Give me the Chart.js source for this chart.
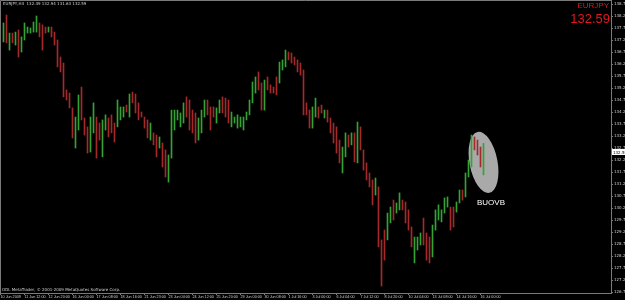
<!DOCTYPE html>
<html>
<head>
<meta charset="utf-8">
<script src="https://cdn.jsdelivr.net/npm/chart.js@4.4.1/dist/chart.umd.min.js"></script>
<style>
  html, body { margin: 0; padding: 0; background: #000; }
  #chart { display: block; }
</style>
</head>
<body>
<canvas id="chart" width="625" height="300"></canvas>
<script>
// --- Data (EURJPY, H4) ---
const symbol = "EURJPY";
const timeframe = "H4";

const tickLabels = ["10 Jun 2009", "11 Jun 12:00", "12 Jun 20:00", "16 Jun 00:00", "17 Jun 08:00",
  "18 Jun 16:00", "21 Jun 23:00", "23 Jun 04:00", "24 Jun 12:00", "25 Jun 20:00", "29 Jun 00:00",
  "30 Jun 08:00", "1 Jul 16:00", "3 Jul 00:00", "6 Jul 04:00", "7 Jul 12:00", "8 Jul 20:00",
  "10 Jul 04:00", "13 Jul 08:00", "14 Jul 16:00", "16 Jul 00:00"];

const priceTicks = [126.75, 127.25, 127.75, 128.25, 128.75, 129.25, 129.75, 130.25, 130.75,
  131.25, 131.75, 132.25, 132.75, 133.25, 133.75, 134.25, 134.75, 135.25, 135.75, 136.25,
  136.75, 137.25, 137.75, 138.25, 138.75];

const barHigh = [
  137.96, 138.29, 137.54, 137.54, 137.58, 137.67, 137.38, 137.96, 137.79, 137.75,
  138.00, 138.25, 137.96, 137.88, 137.79, 137.79, 137.79, 137.58, 137.25, 136.54,
  136.29, 135.17, 135.04, 134.42, 134.04, 134.96, 135.29, 134.00, 133.63, 134.04,
  134.63, 134.04, 133.79, 133.92, 134.13, 134.00, 134.13, 133.79, 134.75, 134.46,
  134.46, 134.54, 135.00, 135.08, 135.00, 134.63, 134.25, 134.04, 133.92, 133.79,
  133.38, 133.29, 133.21, 132.96, 132.67, 132.46, 134.33, 134.33, 134.33, 134.21,
  134.63, 134.88, 134.75, 134.33, 134.21, 134.00, 134.33, 134.75, 134.75, 134.46,
  134.46, 134.42, 134.75, 134.88, 134.83, 134.75, 134.25, 134.04, 134.13, 134.04,
  134.04, 134.25, 134.75, 135.50, 135.71, 135.92, 135.46, 135.58, 135.71, 135.38,
  135.29, 135.71, 136.33, 136.42, 136.83, 136.75, 136.71, 136.54, 136.42, 136.29,
  136.00, 134.63, 134.33, 134.46, 134.83, 134.46, 134.54, 134.33, 134.33, 134.00,
  133.79, 133.63, 133.08, 132.79, 133.38, 133.29, 133.38, 133.38, 133.83, 133.63,
  132.67, 132.13, 131.71, 131.42, 131.50, 131.13, 128.92, 129.33, 130.04, 130.29,
  130.58, 130.46, 130.88, 130.58, 130.50, 130.17, 129.46, 129.04, 129.04, 129.21,
  129.83, 129.21, 129.04, 129.54, 130.17, 130.38, 130.17, 130.67, 130.71, 130.29,
  130.29, 130.50, 131.00, 131.00, 131.71, 132.25, 133.29, 133.21, 133.08, 132.79,
  132.94];

const barLow = [
  137.17, 137.13, 136.83, 137.13, 137.04, 136.54, 136.75, 137.25, 137.54, 137.54,
  137.58, 137.58, 137.38, 136.83, 137.54, 137.58, 137.38, 137.04, 136.13, 135.92,
  134.88, 134.75, 134.42, 133.17, 132.75, 133.50, 133.92, 133.29, 132.54, 132.58,
  133.38, 132.33, 133.08, 132.38, 133.50, 133.21, 133.38, 133.00, 133.63, 133.92,
  134.04, 134.25, 134.04, 134.63, 134.21, 133.92, 134.04, 133.58, 133.17, 133.08,
  132.88, 132.38, 132.75, 131.96, 131.54, 131.33, 132.33, 133.50, 133.92, 133.63,
  133.79, 134.04, 133.50, 133.38, 132.96, 133.08, 133.38, 134.04, 134.13, 133.50,
  134.04, 133.79, 134.21, 134.21, 134.04, 133.79, 133.63, 133.79, 133.58, 133.63,
  133.50, 133.92, 134.13, 134.63, 135.04, 135.17, 134.33, 134.33, 135.17, 135.04,
  135.04, 134.96, 135.46, 136.00, 136.13, 136.42, 136.29, 136.21, 135.92, 135.79,
  134.13, 134.13, 133.58, 133.58, 134.04, 134.00, 134.21, 134.00, 133.83, 133.38,
  132.96, 132.54, 132.13, 131.71, 132.38, 132.79, 132.88, 132.17, 132.13, 132.67,
  131.83, 131.42, 131.13, 130.38, 130.79, 128.63, 127.00, 128.08, 128.92, 129.63,
  129.75, 130.04, 130.17, 130.17, 129.63, 129.33, 128.63, 127.96, 128.50, 128.71,
  128.71, 128.08, 127.96, 128.21, 129.33, 129.75, 129.67, 130.04, 130.29, 129.33,
  129.46, 130.08, 130.46, 130.58, 130.71, 131.54, 131.96, 132.67, 132.46, 131.96,
  131.63];

const barOpen = [
  137.35, 138.10, 137.00, 137.45, 137.15, 137.50, 136.85, 137.30, 137.60, 137.60,
  137.65, 137.70, 137.90, 137.60, 137.75, 137.62, 137.70, 137.50, 137.15, 136.40,
  136.10, 135.10, 134.95, 134.35, 133.20, 133.80, 135.00, 133.95, 133.50, 132.80,
  133.70, 133.90, 133.60, 132.60, 133.60, 133.90, 134.00, 133.60, 133.80, 134.00,
  134.10, 134.50, 134.30, 135.00, 134.80, 134.50, 134.20, 134.00, 133.80, 133.20,
  133.30, 133.10, 132.80, 132.90, 132.50, 131.60, 132.40, 133.70, 134.00, 133.80,
  134.00, 134.70, 134.50, 134.20, 134.00, 133.30, 133.60, 134.20, 134.65, 134.30,
  134.40, 133.90, 134.30, 134.75, 134.70, 134.60, 133.75, 133.85, 133.70, 133.70,
  133.60, 134.00, 134.20, 134.70, 135.20, 135.80, 135.30, 134.50, 135.60, 135.30,
  135.25, 135.60, 135.60, 136.10, 136.25, 136.70, 136.60, 136.45, 136.35, 136.20,
  135.90, 134.55, 134.25, 133.70, 134.20, 134.40, 134.45, 134.05, 134.25, 133.90,
  133.60, 133.40, 132.90, 131.90, 132.50, 133.20, 132.95, 133.20, 132.40, 133.50,
  132.60, 132.00, 131.60, 131.30, 130.90, 131.00, 128.80, 129.20, 129.10, 129.80,
  130.40, 130.10, 130.30, 130.50, 130.40, 130.00, 129.40, 128.20, 128.60, 128.80,
  129.60, 129.00, 128.90, 128.40, 129.50, 129.90, 129.80, 130.15, 130.40, 130.20,
  130.10, 130.15, 130.55, 130.95, 130.80, 131.60, 132.10, 133.10, 132.95, 132.70,
  132.49];

const barClose = [
  137.85, 137.30, 137.45, 137.20, 137.50, 136.70, 137.30, 137.85, 137.75, 137.70,
  137.95, 138.10, 137.45, 137.00, 137.60, 137.75, 137.45, 137.10, 136.30, 136.00,
  135.00, 134.85, 134.50, 133.40, 133.90, 134.80, 134.10, 133.40, 132.80, 133.90,
  134.50, 132.60, 133.20, 133.80, 134.00, 133.40, 133.50, 133.10, 134.60, 134.40,
  134.40, 134.30, 134.90, 134.75, 134.40, 134.00, 134.10, 133.70, 133.30, 133.70,
  133.00, 132.50, 133.10, 132.10, 131.70, 132.30, 134.10, 134.20, 134.25, 134.10,
  134.50, 134.20, 133.70, 133.50, 133.20, 133.90, 134.20, 134.60, 134.25, 133.70,
  134.10, 134.35, 134.70, 134.30, 134.20, 133.90, 134.15, 134.00, 134.00, 133.95,
  133.95, 134.20, 134.65, 135.40, 135.60, 135.30, 134.50, 135.40, 135.25, 135.10,
  135.10, 135.10, 136.20, 136.35, 136.70, 136.50, 136.35, 136.30, 136.00, 135.90,
  134.30, 134.20, 133.70, 134.35, 134.70, 134.10, 134.25, 134.30, 133.90, 133.50,
  133.10, 132.70, 132.30, 132.60, 133.20, 132.90, 133.30, 132.40, 133.60, 132.80,
  132.00, 131.55, 131.25, 130.60, 131.40, 129.00, 127.80, 128.40, 129.90, 130.20,
  129.90, 130.40, 130.75, 130.25, 129.80, 129.50, 128.80, 128.90, 128.95, 129.10,
  128.90, 128.30, 128.20, 129.40, 130.00, 130.30, 130.10, 130.55, 130.65, 129.50,
  129.60, 130.45, 130.90, 130.70, 131.60, 132.10, 133.10, 132.80, 132.60, 132.20,
  132.59];

// --- Styles ---
const upColor = "#34a234";
const downColor = "#a3292b";
const frameColor = "#7a7a7a";
const textColor = "#cfcfcf";
const quoteRed = "#e8161c";

const last = barClose.length - 1;
const fmt = v => v.toFixed(2);

const barData = barHigh.map((h, i) => ({ x: i, y: [barLow[i], h] }));
const barColors = barClose.map((c, i) => c >= barOpen[i] ? upColor : downColor);

// frame, pattern ellipse, captions
const decorations = {
  id: "decorations",
  beforeDatasetsDraw(chart) {
    const { ctx, scales: { x, y } } = chart;
    // highlighted pattern (last bars)
    ctx.save();
    ctx.fillStyle = "#a9a9a9";
    ctx.beginPath();
    ctx.ellipse(x.getPixelForValue(last), y.getPixelForValue(132.15), 14, 31, -0.19, 0, Math.PI * 2);
    ctx.fill();
    ctx.restore();
  },
  afterDraw(chart) {
    const { ctx, chartArea: a, scales: { x, y } } = chart;
    ctx.save();
    // top and left frame lines
    ctx.strokeStyle = frameColor;
    ctx.lineWidth = 1;
    ctx.beginPath();
    ctx.moveTo(0.5, a.bottom);
    ctx.lineTo(0.5, 0.5);
    ctx.lineTo(a.right, 0.5);
    ctx.stroke();

    // header
    ctx.fillStyle = textColor;
    ctx.font = "4px 'DejaVu Sans'";
    ctx.textBaseline = "top";
    ctx.textAlign = "left";
    ctx.fillText(`${symbol},${timeframe}  ${fmt(barOpen[last])} ${fmt(barHigh[last])} ${fmt(barLow[last])} ${fmt(barClose[last])}`, 3, 2);

    // copyright
    ctx.textBaseline = "bottom";
    ctx.fillText("ODL MetaTrader, \u00a9 2001-2009 MetaQuotes Software Corp.", 2, a.bottom - 1);

    // symbol and last price
    ctx.fillStyle = quoteRed;
    ctx.textAlign = "right";
    ctx.textBaseline = "top";
    ctx.font = "8px 'Liberation Sans'";
    ctx.fillText(symbol, a.right - 2, 2);
    ctx.font = "13px 'Liberation Sans'";
    ctx.fillText(fmt(barClose[last]), a.right - 1, 13);

    // pattern label
    ctx.fillStyle = "#ffffff";
    ctx.textAlign = "center";
    ctx.textBaseline = "middle";
    ctx.font = "8px 'Liberation Sans'";
    ctx.fillText("BUOVB", x.getPixelForValue(162.5), y.getPixelForValue(130.45));

    // current price marker on the axis
    const py = Math.round(y.getPixelForValue(barClose[last]));
    ctx.fillStyle = "#ffffff";
    ctx.fillRect(a.right + 1, py - 3, 13, 6);
    ctx.fillStyle = "#000000";
    ctx.textAlign = "left";
    ctx.font = "4px 'DejaVu Sans'";
    ctx.fillText(fmt(barClose[last]), a.right + 2, py + 0.5);
    ctx.restore();
  }
};

new Chart(document.getElementById("chart"), {
  type: "bar",
  data: {
    datasets: [{
      data: barData,
      backgroundColor: barColors,
      borderWidth: 0,
      barThickness: 1
    }]
  },
  options: {
    responsive: false,
    animation: false,
    events: [],
    layout: { padding: 0 },
    plugins: { legend: { display: false }, tooltip: { enabled: false } },
    scales: {
      x: {
        type: "linear",
        offset: false,
        min: -7 / 6,
        max: 202.5,
        grid: { offset: false, drawOnChartArea: false, color: frameColor, tickLength: 2 },
        border: { color: frameColor, width: 1 },
        afterBuildTicks: scale => {
          scale.ticks = tickLabels.map((_, k) => ({ value: -1 + 8 * k }));
        },
        afterFit: scale => {
          scale.height = 7;
          scale.paddingLeft = 0;
          scale.paddingRight = 0;
        },
        ticks: {
          autoSkip: false,
          maxRotation: 0,
          align: "start",
          padding: 0,
          color: textColor,
          font: { family: "Liberation Sans", size: 3.7 },
          callback: v => tickLabels[Math.round((v + 1) / 8)]
        }
      },
      y: {
        position: "right",
        min: 138.9167 - 293 / 24,
        max: 138.9167,
        grid: { drawOnChartArea: false, color: frameColor, tickLength: 2 },
        border: { color: frameColor, width: 1 },
        afterBuildTicks: scale => {
          scale.ticks = priceTicks.map(v => ({ value: v }));
        },
        afterFit: scale => {
          scale.width = 14;
          scale.paddingTop = 0;
          scale.paddingBottom = 0;
        },
        ticks: {
          padding: 1,
          color: textColor,
          font: { family: "DejaVu Sans", size: 4 },
          callback: v => fmt(v)
        }
      }
    }
  },
  plugins: [decorations]
});
</script>
</body>
</html>
